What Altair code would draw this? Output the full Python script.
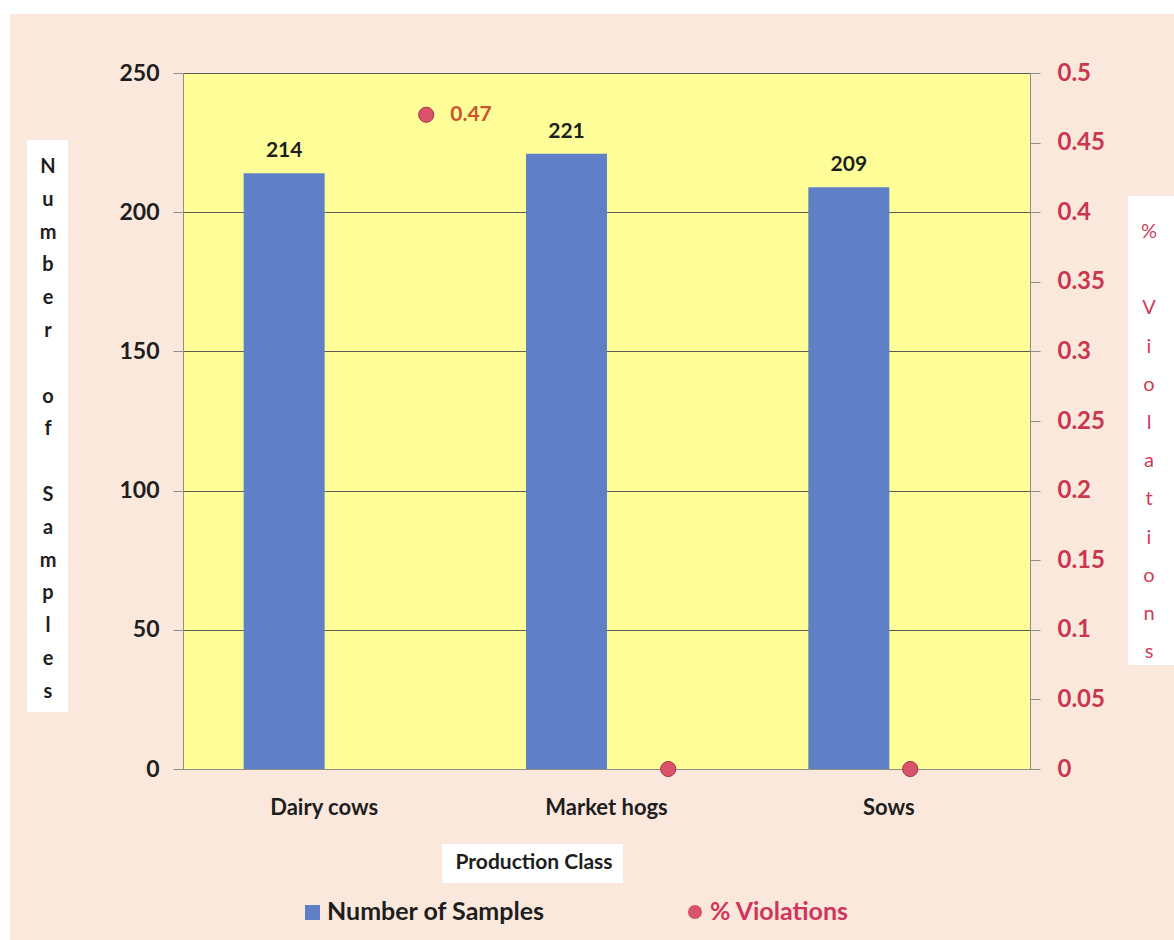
import altair as alt
import pandas as pd

# Production classes and the two measured series
classes = ["Dairy cows", "Market hogs", "Sows"]
samples = [214, 221, 209]
violations = [0.47, 0.0, 0.0]

left_ticks = [0, 50, 100, 150, 200, 250]
right_ticks = [0, 0.05, 0.1, 0.15, 0.2, 0.25, 0.3, 0.35, 0.4, 0.45, 0.5]

FONT = "Lato"
DARK = "#1e1e1e"
BLUE = "#5F7FC6"
RED = "#D9546B"
RED_TEXT = "#C8374F"
LINE = "#8f8f86"

df = pd.DataFrame({"cls": classes, "samples": samples, "viol": violations})
base = alt.Chart(df)
one = pd.DataFrame({"k": [0]})


def box(x1, x2, y1, y2, color):
    return alt.Chart(one).mark_rect(color=color).encode(
        x=alt.value(x1), x2=alt.value(x2), y=alt.value(y1), y2=alt.value(y2)
    )


def label(x, y, text, size, color, weight="bold", align="center", line_height=None):
    kw = dict(font=FONT, fontSize=size, color=color, fontWeight=weight,
              align=align, baseline="middle")
    if line_height is not None:
        kw.update(lineBreak="\n", lineHeight=line_height)
    return alt.Chart(one).mark_text(**kw).encode(
        x=alt.value(x), y=alt.value(y), text=alt.value(text)
    )


def stacked_title(x, y0, phrase, step, size, color, weight):
    # each word is written one letter per line; a blank line separates words
    layers, line = [], 0
    for word in phrase.split(" "):
        layers.append(label(x, y0 + line * step, "\n".join(word), size, color,
                            weight=weight, line_height=step))
        line += len(word) + 1
    return layers


# Bars on the left axis (Number of Samples)
band = alt.Scale(domain=classes, paddingInner=0, paddingOuter=0)
x_bar = alt.X(
    "cls:N", sort=classes, scale=band,
    axis=alt.Axis(title=None, labelAngle=0, labelFont=FONT, labelFontSize=22,
                  labelFontWeight="bold", labelColor=DARK, labelPadding=28,
                  ticks=False, domainColor=LINE),
)
x_bar_plain = alt.X("cls:N", sort=classes, scale=band, axis=None)
y_left = alt.Y(
    "samples:Q", scale=alt.Scale(domain=[0, 250]),
    axis=alt.Axis(title=None, values=left_ticks, grid=True, gridColor="#5b5b50",
                  gridWidth=1, tickSize=10, tickColor=LINE, domainColor=LINE,
                  labelFont=FONT, labelFontSize=23, labelFontWeight="bold",
                  labelColor=DARK, labelPadding=14),
)
y_left_plain = alt.Y("samples:Q", scale=alt.Scale(domain=[0, 250]), axis=None)

bars = base.mark_bar(size=81, xOffset=-40, color=BLUE).encode(x=x_bar, y=y_left)
bar_text = base.mark_text(
    xOffset=-40, dy=-16, baseline="alphabetic", font=FONT, fontSize=21,
    fontWeight="bold", color=DARK,
).encode(x=x_bar_plain, y=y_left_plain, text="samples:Q")

# Points on the right axis (% Violations)
pts = alt.Scale(domain=classes, type="point", padding=0.75, align=0.67)
x_pt = alt.X("cls:N", sort=classes, scale=pts, axis=None)
y_right = alt.Y(
    "viol:Q", scale=alt.Scale(domain=[0, 0.5]),
    axis=alt.Axis(orient="right", title=None, values=right_ticks, format=".2~f",
                  grid=False, tickSize=10, tickColor=LINE, domainColor=LINE,
                  labelFont=FONT, labelFontSize=24, labelFontWeight="bold",
                  labelColor=RED_TEXT, labelPadding=17),
)
y_right_plain = alt.Y("viol:Q", scale=alt.Scale(domain=[0, 0.5]), axis=None)

points = base.mark_point(
    filled=True, size=230, color=RED, stroke="#A8304A", strokeWidth=1, opacity=1
).encode(x=x_pt, y=y_right)
pt_text = base.transform_filter("datum.viol > 0").mark_text(
    align="left", dx=24, baseline="middle", font=FONT, fontSize=21,
    fontWeight="bold", color="#C8552E",
).encode(x=x_pt, y=y_right_plain, text=alt.Text("viol:Q", format=".2f"))

# Frame, vertical axis titles, x title and legend
decor = [
    box(-183, -173, -73, 867, "#ffffff"),
    box(-183, 991, -73, -59, "#ffffff"),
    box(-156, -115, 67, 639, "#ffffff"),
    box(945, 991, 123, 592, "#ffffff"),
    box(259, 440, 771, 810, "#ffffff"),
]
titles = (
    stacked_title(-135, 94, "Number of Samples", 32.8, 20, DARK, "bold")
    + stacked_title(966, 159, "% Violations", 38.2, 20, "#CC3D5C", "normal")
    + [
        label(351, 790, "Production Class", 21, DARK),
        box(122, 137, 832, 847, BLUE),
        label(144, 839, "Number of Samples", 25, DARK, align="left"),
        alt.Chart(one).mark_point(filled=True, size=200, color=RED, opacity=1).encode(
            x=alt.value(512), y=alt.value(839)),
        label(527, 839, "% Violations", 25, "#D0355A", align="left"),
    ]
)

chart = alt.layer(
    *decor, bars, bar_text, points, pt_text, *titles
).resolve_scale(x="independent", y="independent").properties(
    width=847, height=696,
    padding={"left": 183, "top": 73, "right": 144, "bottom": 171},
    autosize=alt.AutoSizeParams(type="none"),
    background="#FBE8DC",
).configure_view(fill="#FFFE98", stroke=None)

chart.save("out.html", embed_options={"renderer": "svg", "actions": False})
